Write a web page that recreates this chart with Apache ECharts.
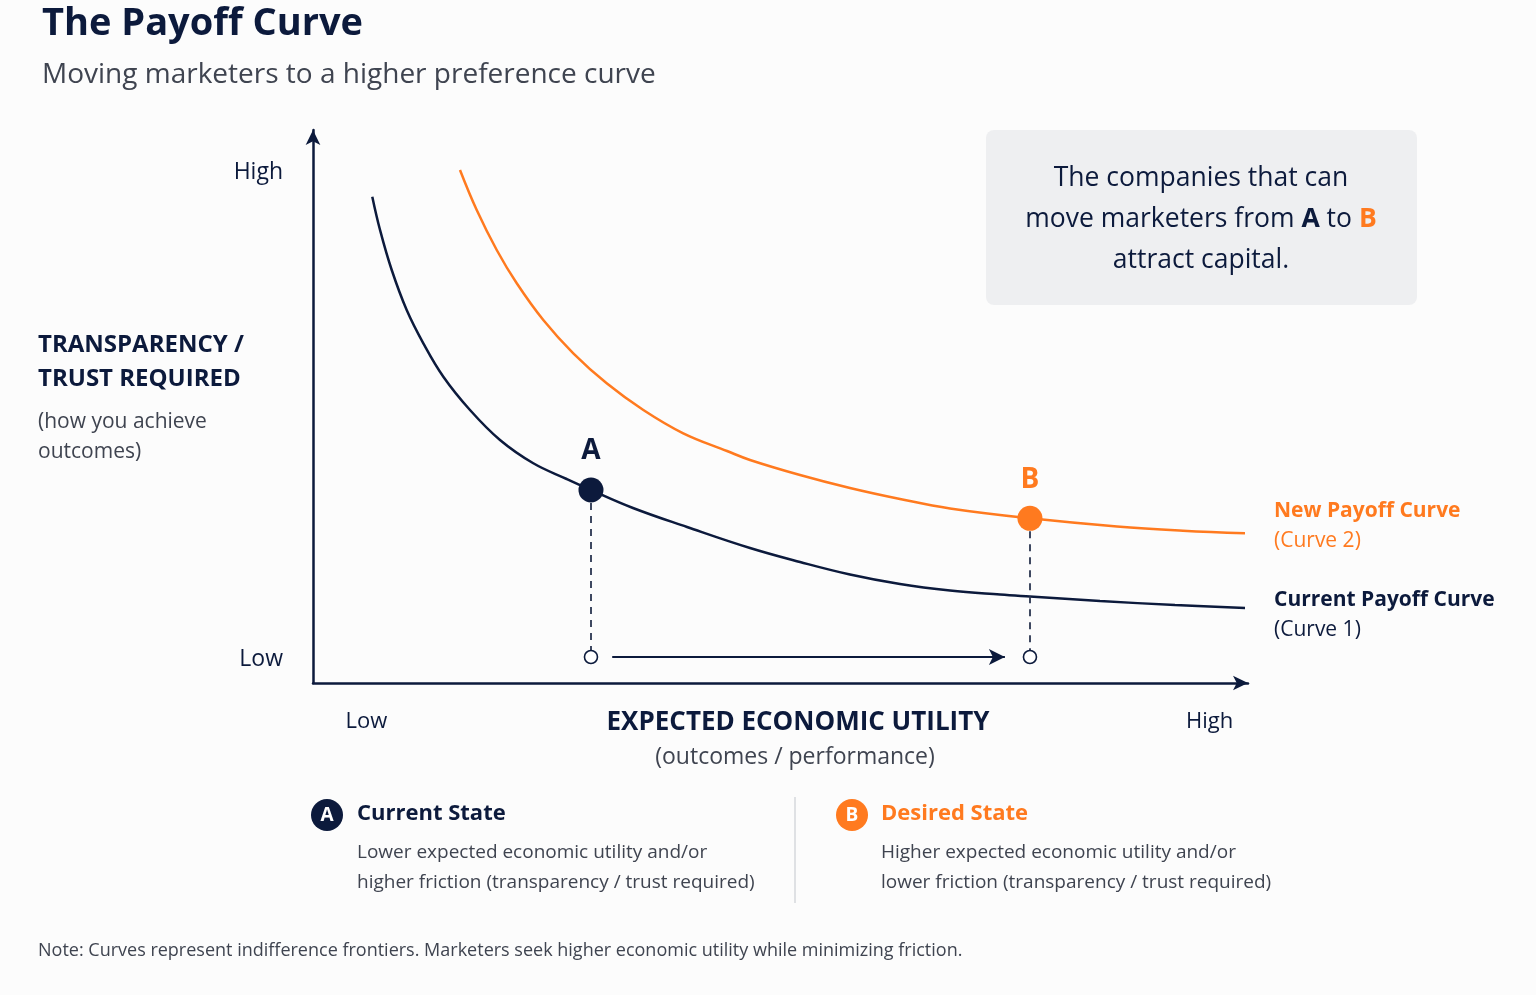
<!DOCTYPE html>
<html>
<head>
<meta charset="utf-8">
<script src="https://cdn.jsdelivr.net/npm/echarts@6/dist/echarts.min.js"></script>
<style>
  html, body { margin: 0; padding: 0; background: #fcfcfc; }
  #chart { width: 1536px; height: 995px; }
</style>
</head>
<body>
<div id="chart"></div>
<script>
// values, axis runs 0..100 on both sides
var curve1 = [
  [6.34, 87.94], [7.17, 81.92], [8.42, 74.68], [10.02, 67.45], [11.80, 61.43],
  [13.94, 55.39], [16.79, 49.37], [20.00, 43.94], [23.56, 39.73], [27.13, 36.89],
  [29.73, 34.90], [34.22, 31.65], [40.00, 28.21], [46.74, 24.41], [52.09, 21.88],
  [57.43, 19.62], [62.78, 17.90], [68.13, 16.73], [73.48, 16.00], [76.68, 15.64],
  [84.17, 14.83], [92.19, 14.10], [99.68, 13.56]
];
var curve2 = [
  [15.72, 92.77], [17.51, 85.53], [19.65, 78.30], [21.79, 72.28], [24.63, 65.64],
  [27.84, 59.62], [31.41, 54.20], [35.33, 49.37], [39.60, 45.15], [44.28, 41.95],
  [46.74, 40.33], [52.09, 37.61], [57.43, 35.26], [62.78, 33.27], [68.13, 31.56],
  [76.68, 29.78], [85.99, 28.30], [93.05, 27.54], [99.68, 27.07]
];
var pointA = [29.73, 34.90];
var pointB = [76.68, 29.78];
var baseY = 4.7;
var moveArrow = [32.0, 74.0];
var xTicks = [5.7, 95.9];
var yTicks = [4.3, 92.4];

var navy = '#0c1a3c';
var orange = '#ff7a1f';
var grey = '#3f4450';
var font = '"Open Sans", Lato, sans-serif';

var myChart = echarts.init(document.getElementById('chart'));

function txt(x, y, text, size, weight, color, align) {
  return {
    type: 'text', x: x, y: y,
    style: {
      text: text, fill: color, textAlign: align || 'left', textVerticalAlign: 'middle',
      font: (weight || 'normal') + ' ' + size + 'px ' + font
    }
  };
}

var option = {
  backgroundColor: '#fcfcfc',
  animation: false,
  textStyle: { fontFamily: font },
  grid: { left: 313, right: 288, top: 130, bottom: 312 },
  xAxis: {
    type: 'value', min: 0, max: 100,
    axisLine: { show: true, symbol: ['none', 'arrow'], symbolSize: [11, 15], lineStyle: { color: navy, width: 2.5 } },
    axisTick: { show: false },
    splitLine: { show: false },
    axisLabel: {
      customValues: xTicks, margin: 28, fontSize: 22, color: navy,
      formatter: function (v) { return v < 50 ? 'Low' : 'High'; }
    }
  },
  yAxis: {
    type: 'value', min: 0, max: 100,
    axisLine: { show: true, symbol: ['none', 'arrow'], symbolSize: [11, 15], lineStyle: { color: navy, width: 2.5 } },
    axisTick: { show: false },
    splitLine: { show: false },
    axisLabel: {
      customValues: yTicks, margin: 30, fontSize: 23, color: navy,
      formatter: function (v) { return v < 50 ? 'Low' : 'High'; }
    }
  },
  series: [
    {
      name: 'Current Payoff Curve', type: 'line', data: curve1, smooth: 0.4,
      showSymbol: false, lineStyle: { color: navy, width: 2.5 }, z: 3
    },
    {
      name: 'New Payoff Curve', type: 'line', data: curve2, smooth: 0.4,
      showSymbol: false, lineStyle: { color: orange, width: 2.5 }, z: 3,
      markLine: {
        silent: true, symbol: ['none', 'none'], label: { show: false },
        lineStyle: { color: '#2a3550', type: [7, 6], width: 1.8 },
        data: [
          [{ coord: [pointA[0], pointA[1]] }, { coord: [pointA[0], baseY] }],
          [{ coord: [pointB[0], pointB[1]] }, { coord: [pointB[0], baseY] }]
        ]
      }
    },
    {
      type: 'line', data: [[moveArrow[0], baseY], [moveArrow[1], baseY]],
      showSymbol: false, lineStyle: { width: 0 },
      markLine: {
        silent: true, symbol: ['none', 'arrow'], symbolSize: [12, 16], label: { show: false },
        lineStyle: { color: navy, type: 'solid', width: 2 },
        data: [[{ coord: [moveArrow[0], baseY] }, { coord: [moveArrow[1], baseY] }]]
      }
    },
    {
      type: 'scatter', data: [[pointA[0], baseY], [pointB[0], baseY]],
      symbolSize: 13, z: 5,
      itemStyle: { color: '#ffffff', borderColor: navy, borderWidth: 1.6, opacity: 1 }
    },
    {
      type: 'scatter', symbolSize: 25, z: 6,
      data: [
        { value: pointA, itemStyle: { color: navy, opacity: 1 }, label: { color: navy, formatter: 'A' } },
        { value: pointB, itemStyle: { color: orange, opacity: 1 }, label: { color: orange, formatter: 'B' } }
      ],
      label: { show: true, position: 'top', distance: 12, fontSize: 28, fontWeight: 'bold' }
    }
  ],
  graphic: [
    txt(42, 24, 'The Payoff Curve', 38, 'bold', navy),
    txt(42, 75, 'Moving marketers to a higher preference curve', 28, 'normal', grey),

    txt(38, 345, 'TRANSPARENCY /', 24, 'bold', navy),
    txt(38, 379, 'TRUST REQUIRED', 24, 'bold', navy),
    txt(38, 422, '(how you achieve', 21, 'normal', grey),
    txt(38, 452, 'outcomes)', 21, 'normal', grey),

    txt(798, 723, 'EXPECTED ECONOMIC UTILITY', 26, 'bold', navy, 'center'),
    txt(795, 757, '(outcomes / performance)', 23, 'normal', grey, 'center'),

    txt(1274, 511, 'New Payoff Curve', 21, 'bold', orange),
    txt(1274, 541, '(Curve 2)', 21, 'normal', orange),
    txt(1274, 600, 'Current Payoff Curve', 21, 'bold', navy),
    txt(1274, 630, '(Curve 1)', 21, 'normal', navy),

    {
      type: 'rect', shape: { x: 986, y: 130, width: 431, height: 175, r: 8 },
      style: { fill: '#eeeff1' }
    },
    {
      type: 'text', x: 1201, y: 219,
      style: {
        text: 'The companies that can\nmove marketers from {a|A} to {b|B}\nattract capital.',
        fill: navy, textAlign: 'center', textVerticalAlign: 'middle',
        font: 'normal 26.5px ' + font, lineHeight: 41,
        rich: {
          a: { fontWeight: 'bold', fontSize: 26.5, fill: navy, fontFamily: font },
          b: { fontWeight: 'bold', fontSize: 26.5, fill: orange, fontFamily: font }
        }
      }
    },

    { type: 'circle', shape: { cx: 327, cy: 815, r: 16 }, style: { fill: navy } },
    txt(327, 816, 'A', 19, 'bold', '#ffffff', 'center'),
    txt(357, 814, 'Current State', 22, 'bold', navy),
    txt(357, 853, 'Lower expected economic utility and/or', 19, 'normal', grey),
    txt(357, 883, 'higher friction (transparency / trust required)', 19, 'normal', grey),

    { type: 'line', shape: { x1: 795, y1: 797, x2: 795, y2: 903 }, style: { stroke: '#d6d8dc', lineWidth: 1.5 } },

    { type: 'circle', shape: { cx: 852, cy: 815, r: 16 }, style: { fill: orange } },
    txt(852, 816, 'B', 19, 'bold', '#ffffff', 'center'),
    txt(881, 814, 'Desired State', 22, 'bold', orange),
    txt(881, 853, 'Higher expected economic utility and/or', 19, 'normal', grey),
    txt(881, 883, 'lower friction (transparency / trust required)', 19, 'normal', grey),

    txt(38, 951, 'Note: Curves represent indifference frontiers. Marketers seek higher economic utility while minimizing friction.', 18, 'normal', grey)
  ]
};

myChart.setOption(option);
</script>
</body>
</html>
